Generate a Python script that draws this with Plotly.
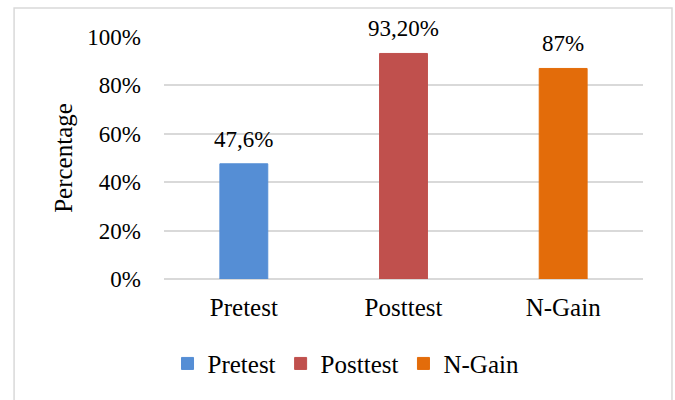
import plotly.graph_objects as go

# Data
categories = ["Pretest", "Posttest", "N-Gain"]
values = [47.6, 93.2, 87]
value_labels = ["47,6%", "93,20%", "87%"]
tick_values = [0, 20, 40, 60, 80, 100]
tick_labels = ["0%", "20%", "40%", "60%", "80%", "100%"]
colors = ["#558ED5", "#C0504D", "#E36C0A"]

FONT = "Liberation Serif"
GRID = "#D9D9D9"

fig = go.Figure()
for cat, val, col in zip(categories, values, colors):
    # a thin outline in the fill colour makes the legend swatch a bit larger
    fig.add_trace(go.Bar(
        x=[cat], y=[val], name=cat,
        marker=dict(color=col, line=dict(width=1, color=col)),
        width=0.30,
        hoverinfo="skip",
    ))

# value labels above each bar
for cat, val, lab in zip(categories, values, value_labels):
    fig.add_annotation(
        x=cat, y=val, text=lab, showarrow=False,
        xanchor="center", yanchor="bottom", yshift=10,
        font=dict(family=FONT, size=23, color="#000000"),
    )

# outer chart border
fig.add_shape(
    type="rect", xref="paper", yref="paper",
    x0=-0.313, x1=1.0605, y0=-0.52, y1=1.12,
    line=dict(color=GRID, width=1.5), fillcolor="rgba(0,0,0,0)",
    layer="below",
)

fig.update_layout(
    width=675, height=400,
    margin=dict(l=164, r=32, t=37, b=121, autoexpand=False),
    paper_bgcolor="white", plot_bgcolor="white",
    barmode="overlay",
    font=dict(family=FONT, size=23, color="#000000"),
    showlegend=True,
    legend=dict(
        orientation="h", x=0.38, xanchor="center",
        y=-0.35, yanchor="middle",
        font=dict(family=FONT, size=25, color="#000000"),
        itemwidth=30, traceorder="normal",
        bgcolor="rgba(0,0,0,0)",
    ),
    xaxis=dict(
        categoryorder="array", categoryarray=categories,
        showgrid=False, showline=False, zeroline=False,
        ticks="", ticklabelstandoff=11,
        tickfont=dict(family=FONT, size=25, color="#000000"),
        fixedrange=True,
    ),
    yaxis=dict(
        range=[0, 100], tickvals=tick_values, ticktext=tick_labels,
        showgrid=True, gridcolor=GRID, gridwidth=1.5,
        zeroline=True, zerolinecolor=GRID, zerolinewidth=1.5,
        showline=False, ticks="", ticklabelstandoff=22,
        tickfont=dict(family=FONT, size=23, color="#000000"),
        title=dict(text="Percentage", standoff=7,
                   font=dict(family=FONT, size=25, color="#000000")),
        fixedrange=True,
    ),
)

fig.write_html("out.html")
